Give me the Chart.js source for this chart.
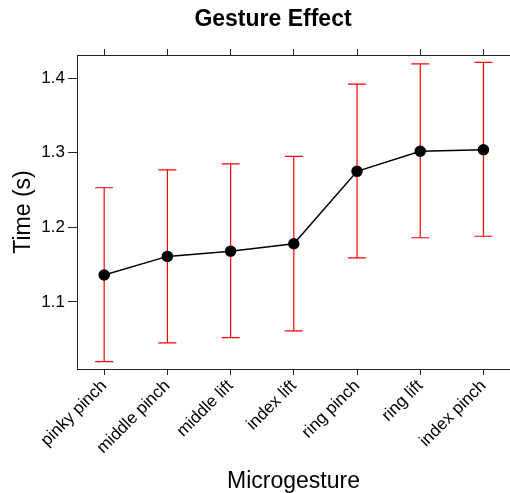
<!DOCTYPE html>
<html>
<head>
<meta charset="utf-8">
<script src="https://cdn.jsdelivr.net/npm/chart.js@4.4.0/dist/chart.umd.min.js"></script>
<style>
  html, body { margin: 0; padding: 0; background: #fff; }
  #wrap { width: 510px; height: 493px; }
</style>
</head>
<body>
<div id="wrap"><canvas id="gestureChart"></canvas></div>
<script>
(function () {
  'use strict';

  const categories = ['pinky pinch', 'middle pinch', 'middle lift', 'index lift', 'ring pinch', 'ring lift', 'index pinch'];
  const meanTime = [1.136, 1.161, 1.168, 1.178, 1.275, 1.302, 1.304];
  const lowerTime = [1.020, 1.045, 1.052, 1.061, 1.159, 1.186, 1.188];
  const upperTime = [1.253, 1.277, 1.285, 1.295, 1.392, 1.419, 1.421];
  const yTicks = [1.1, 1.2, 1.3, 1.4];

  const FONT = "'Liberation Sans', Arial, Helvetica, sans-serif";
  const AXIS = '#222';

  const points = meanTime.map((v, i) => ({ x: i, y: v }));
  const catTicks = scale => { scale.ticks = categories.map((c, i) => ({ value: i })); };

  // red error bars, drawn behind the line and points
  const errorBars = {
    id: 'errorBars',
    beforeDatasetsDraw(chart) {
      const ctx = chart.ctx;
      const xs = chart.scales.x, ys = chart.scales.y;
      ctx.save();
      ctx.strokeStyle = '#ff0000';
      ctx.lineWidth = 1.2;
      categories.forEach((c, i) => {
        const px = xs.getPixelForValue(i);
        const lo = ys.getPixelForValue(lowerTime[i]);
        const hi = ys.getPixelForValue(upperTime[i]);
        ctx.beginPath();
        ctx.moveTo(px, lo); ctx.lineTo(px, hi);
        ctx.moveTo(px - 9, lo); ctx.lineTo(px + 9, lo);
        ctx.moveTo(px - 9, hi); ctx.lineTo(px + 9, hi);
        ctx.stroke();
      });
      ctx.restore();
    }
  };

  const mainTitle = {
    id: 'mainTitle',
    afterDraw(chart) {
      const ctx = chart.ctx;
      ctx.save();
      ctx.fillStyle = '#000';
      ctx.font = 'bold 23px ' + FONT;
      ctx.textAlign = 'center';
      ctx.textBaseline = 'middle';
      ctx.fillText('Gesture Effect', 273, 20);
      ctx.restore();
    }
  };

  new Chart(document.getElementById('gestureChart').getContext('2d'), {
    type: 'line',
    data: {
      datasets: [{
        label: 'Time',
        data: points,
        xAxisID: 'x',
        yAxisID: 'y',
        borderColor: '#000',
        borderWidth: 1.5,
        backgroundColor: '#000',
        pointBackgroundColor: '#000',
        pointBorderColor: '#000',
        pointRadius: 5,
        tension: 0,
        fill: false
      }]
    },
    options: {
      responsive: true,
      maintainAspectRatio: false,
      animation: false,
      layout: { autoPadding: false, padding: { left: 0, top: 49, right: 0, bottom: 0 } },
      plugins: { legend: { display: false }, title: { display: false }, tooltip: { enabled: false } },
      scales: {
        x: {
          type: 'linear',
          position: 'bottom',
          min: -0.43,
          max: 6.42,
          afterBuildTicks: catTicks,
          afterFit: s => { s.height = 124; },
          grid: { drawOnChartArea: false, tickLength: 6, color: AXIS },
          border: { display: true, color: AXIS, width: 1 },
          ticks: {
            autoSkip: false,
            minRotation: 45,
            maxRotation: 45,
            padding: 1,
            color: '#000',
            font: { family: FONT, size: 17 },
            callback: v => categories[v]
          },
          title: {
            display: true,
            text: 'Microgesture',
            color: '#000',
            font: { family: FONT, size: 23 },
            padding: { top: 0, bottom: -2 }
          }
        },
        xTop: {
          type: 'linear',
          position: 'top',
          min: -0.43,
          max: 6.42,
          afterBuildTicks: catTicks,
          afterFit: s => { s.height = 6; },
          grid: { drawOnChartArea: false, tickLength: 6, color: AXIS },
          border: { display: true, color: AXIS, width: 1 },
          ticks: { display: false }
        },
        y: {
          type: 'linear',
          position: 'left',
          min: 1.010,
          max: 1.431,
          afterBuildTicks: s => { s.ticks = yTicks.map(v => ({ value: v })); },
          afterFit: s => { s.width = 77; },
          grid: { drawOnChartArea: false, tickLength: 9, color: AXIS },
          border: { display: true, color: AXIS, width: 1 },
          ticks: {
            padding: 3,
            color: '#000',
            font: { family: FONT, size: 17 },
            callback: v => v.toFixed(1)
          },
          title: {
            display: true,
            text: 'Time (s)',
            color: '#000',
            font: { family: FONT, size: 23 },
            padding: { top: 10, bottom: 0 }
          }
        }
      }
    },
    plugins: [errorBars, mainTitle]
  });
})();
</script>
</body>
</html>
